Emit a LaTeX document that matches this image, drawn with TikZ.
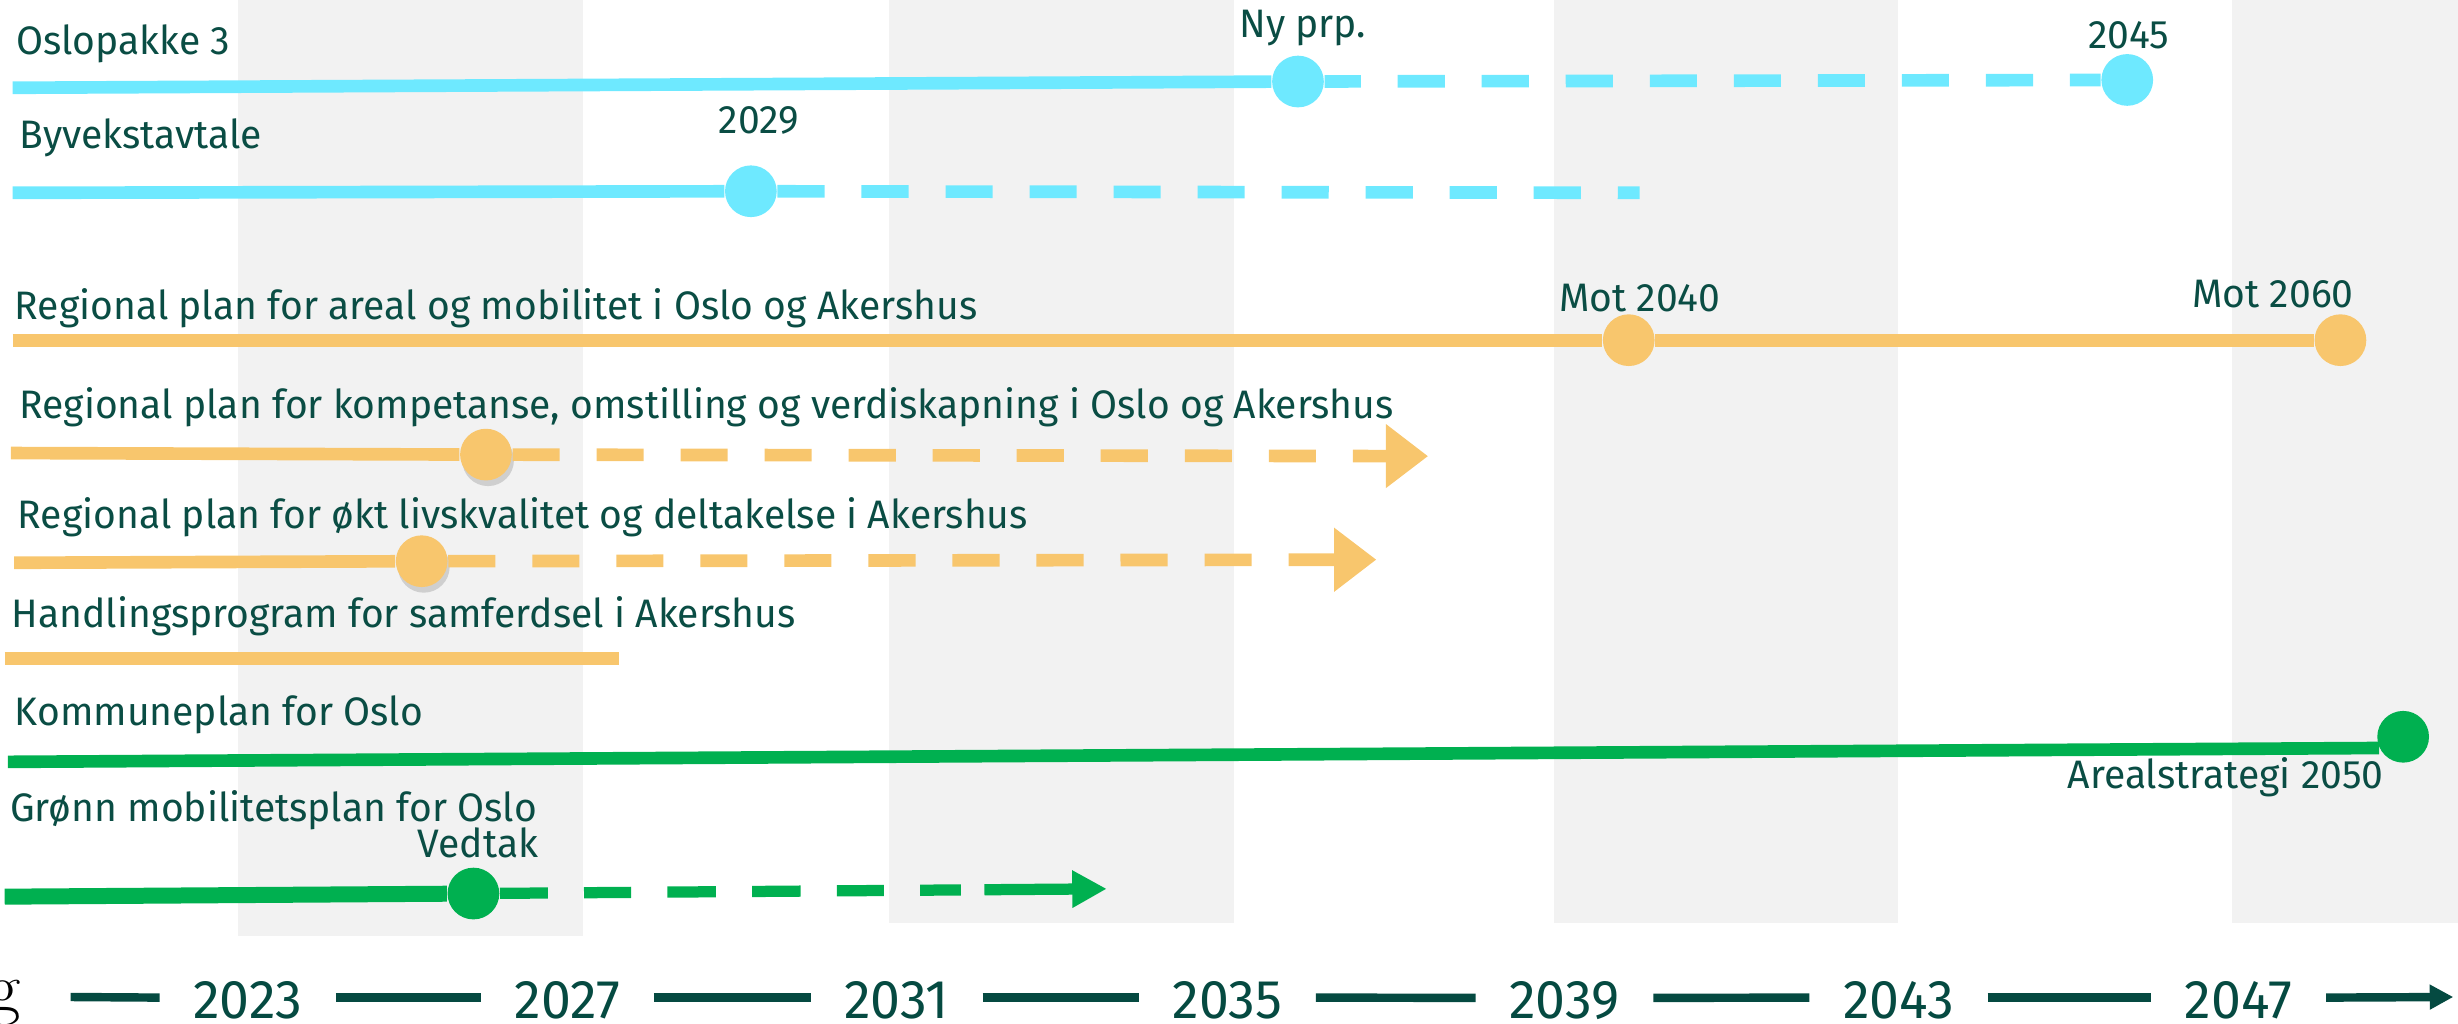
\documentclass[tikz,border=0pt]{standalone}
\usepackage{fontspec}
\newfontfamily\plexfont{Fira Sans}[FakeStretch=0.983]
\usetikzlibrary{arrows.meta,shadows}

\definecolor{txtgreen}{HTML}{0A4D44}
\definecolor{axisgreen}{HTML}{054A41}
\definecolor{bandgray}{HTML}{F2F2F2}
\definecolor{oslocyan}{HTML}{6EE9FF}
\definecolor{regorange}{HTML}{F8C66D}
\definecolor{komgreen}{HTML}{00B050}

\tikzset{
  bar/.style={line width=3.6pt},
  planned/.style={line width=3.6pt, dash pattern=on 13.4pt off 10.5pt},
  milestone/.style={circle, fill=#1, inner sep=0pt, minimum size=0.517cm},
  softshadow/.style={drop shadow={opacity=0.3, shadow xshift=0.6pt, shadow yshift=-1.6pt}},
  lbl/.style={font=\plexfont\fontsize{11.3}{13.6}\selectfont, text=txtgreen, inner sep=0pt},
  yearlbl/.style={font=\plexfont\fontsize{15.5}{18}\selectfont, text=axisgreen, inner xsep=9.4pt, inner ysep=0pt, anchor=base},
  axisline/.style={line width=2.4pt, draw=axisgreen},
  bigtip/.style={-{Triangle[length=12pt,width=17.4pt]}}
}

\begin{document}
\begin{tikzpicture}[x=0.015676cm, y=-0.015676cm]

    % Fix the frame of the picture (y runs downwards)
    \useasboundingbox (0,0) rectangle (1568,653);

    % Grey background bands
    \fill[bandgray] (152,0) rectangle (372,597);
    \fill[bandgray] (567,0) rectangle (787,589);
    \fill[bandgray] (991,0) rectangle (1211,589);
    \fill[bandgray] (1424,0) rectangle (1568,589);

    % Oslopakke 3
    \node[lbl, anchor=base west] (op3) at (10,35) {Oslopakke 3};
    \coordinate (op3s) at (8,56);
    \node[milestone=oslocyan] (opny) at (828,52) {};
    \node[milestone=oslocyan] (op45) at (1357,51) {};
    \node[lbl, anchor=base] (opnyl) at (831,24) {Ny prp.};
    \node[lbl, anchor=base] (op45l) at (1358,31) {2045};
    \draw[bar, oslocyan] (op3s) -- (opny);
    \draw[planned, oslocyan, dash phase=3.1pt] (opny) -- (op45);

    % Byvekstavtale
    \node[lbl, anchor=base west] (byv) at (12,95) {Byvekstavtale};
    \coordinate (byvs) at (8,123);
    \coordinate (byve) at (1046,123);
    \node[milestone=oslocyan] (by29) at (479,122) {};
    \node[lbl, anchor=base] (by29l) at (484,85) {2029};
    \draw[bar, oslocyan] (byvs) -- (by29);
    \draw[planned, oslocyan] (by29) -- (byve);

    % Regional plan for areal og mobilitet
    \node[lbl, anchor=base west] (rpa) at (9,204) {Regional plan for areal og mobilitet i Oslo og Akershus};
    \coordinate (rpas) at (8,217);
    \node[milestone=regorange] (mot40) at (1039,217) {};
    \node[milestone=regorange] (mot60) at (1493,217) {};
    \node[lbl, anchor=base] (mot40l) at (1046,199) {Mot 2040};
    \node[lbl, anchor=base] (mot60l) at (1450,196) {Mot 2060};
    \draw[bar, regorange] (rpas) -- (mot40);
    \draw[bar, regorange] (mot40) -- (mot60);

    % Regional plan for kompetanse
    \node[lbl, anchor=base west] (rpk) at (12,267) {Regional plan for kompetanse, omstilling og verdiskapning i Oslo og Akershus};
    \coordinate (rpks) at (7,289);
    \coordinate (rpke) at (911,291);
    \node[milestone=regorange, softshadow] (rpkm) at (310,290) {};
    \draw[bar, regorange] (rpks) -- (rpkm);
    \draw[planned, regorange, bigtip] (rpkm) -- (rpke);

    % Regional plan for okt livskvalitet
    \node[lbl, anchor=base west] (rpl) at (11,337) {Regional plan for økt livskvalitet og deltakelse i Akershus};
    \coordinate (rpls) at (9,359);
    \coordinate (rple) at (878,357);
    \node[milestone=regorange, softshadow] (rplm) at (269,358) {};
    \draw[bar, regorange] (rpls) -- (rplm);
    \draw[planned, regorange, bigtip] (rplm) -- (rple);

    % Handlingsprogram
    \node[lbl, anchor=base west] (hps) at (7,400) {Handlingsprogram for samferdsel i Akershus};
    \coordinate (hpss) at (3,420);
    \coordinate (hpse) at (395,420);
    \draw[bar, regorange] (hpss) -- (hpse);

    % Kommuneplan for Oslo
    \node[lbl, anchor=base west] (kpo) at (9,463) {Kommuneplan for Oslo};
    \coordinate (kpos) at (5,486);
    \node[milestone=komgreen] (ar50) at (1533,470) {};
    \node[lbl, anchor=base east] (ar50l) at (1521,503) {Arealstrategi 2050};
    \draw[bar, komgreen] (kpos) -- (ar50.205);

    % Gronn mobilitetsplan
    \node[lbl, anchor=base west] (gmp) at (6,524) {Grønn mobilitetsplan for Oslo};
    \coordinate (gmps) at (3,572);
    \coordinate (gmpe) at (706,567);
    \node[milestone=komgreen] (ved) at (302,570) {};
    \node[lbl, anchor=base] (vedl) at (305,547) {Vedtak};
    \draw[line width=4.55pt, komgreen] (gmps) -- (ved);
    \draw[line width=3.2pt, komgreen,
          dash pattern=on 13.6pt off 10.3pt on 13.4pt off 10.3pt on 13.8pt off 10.3pt on 13.8pt off 10.3pt on 13.4pt off 10.3pt on 11.6pt off 6.7pt on 40pt off 1pt,
          -{Triangle[length=9.8pt,width=10pt]}] (ved) -- (gmpe);

    % Time axis
    \node[font=\fontsize{20}{22}\selectfont, anchor=base east, inner sep=0pt] (gcut) at (14,645) {g};
    \node[yearlbl] (y2023) at (158,650) {2023};
    \node[yearlbl] (y2027) at (362,650) {2027};
    \node[yearlbl] (y2031) at (572,650) {2031};
    \node[yearlbl] (y2035) at (783,650) {2035};
    \node[yearlbl] (y2039) at (998,650) {2039};
    \node[yearlbl] (y2043) at (1211,650) {2043};
    \node[yearlbl] (y2047) at (1428,650) {2047};
    \coordinate (axs) at (45,636);
    \coordinate (axe) at (1565,636);
    \draw[axisline] (axs) -- ([yshift=0.9pt]y2023.west);
    \draw[axisline] ([yshift=0.9pt]y2023.east) -- ([yshift=0.9pt]y2027.west);
    \draw[axisline] ([yshift=0.9pt]y2027.east) -- ([yshift=0.9pt]y2031.west);
    \draw[axisline] ([yshift=0.9pt]y2031.east) -- ([yshift=0.9pt]y2035.west);
    \draw[axisline] ([yshift=0.9pt]y2035.east) -- ([yshift=0.9pt]y2039.west);
    \draw[axisline] ([yshift=0.9pt]y2039.east) -- ([yshift=0.9pt]y2043.west);
    \draw[axisline] ([yshift=0.9pt]y2043.east) -- ([yshift=0.9pt]y2047.west);
    \draw[axisline, -{Triangle[length=6.7pt,width=6.7pt]}] ([yshift=0.9pt]y2047.east) -- (axe);

\end{tikzpicture}
\end{document}
